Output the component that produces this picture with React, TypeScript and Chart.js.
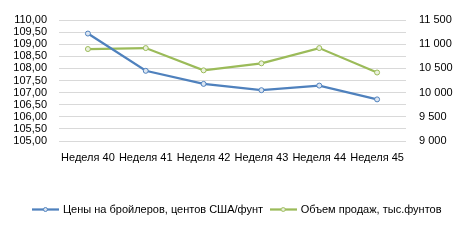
import React, { useEffect, useRef } from "react";
import { Chart, registerables } from "chart.js";

Chart.register(...registerables);

const categories = ["Неделя 40", "Неделя 41", "Неделя 42", "Неделя 43", "Неделя 44", "Неделя 45"];
const priceSeries = [109.44, 107.9, 107.36, 107.1, 107.29, 106.72];
const volumeSeries = [10900, 10920, 10460, 10605, 10920, 10415];
const priceLabel = "Цены на бройлеров, центов США/фунт";
const volumeLabel = "Объем продаж, тыс.фунтов";

const BLUE = "#4F81BD";
const GREEN = "#9BBB59";
const FONT = "'Liberation Sans', Arial, sans-serif";

function legendIcon(color: string, fill: string): HTMLCanvasElement {
  const c = document.createElement("canvas");
  c.width = 27;
  c.height = 7;
  const ctx = c.getContext("2d")!;
  ctx.strokeStyle = color;
  ctx.lineWidth = 2.25;
  ctx.beginPath();
  ctx.moveTo(0, 3.5);
  ctx.lineTo(27, 3.5);
  ctx.stroke();
  ctx.beginPath();
  ctx.arc(13.5, 3.5, 2, 0, Math.PI * 2);
  ctx.fillStyle = fill;
  ctx.fill();
  ctx.lineWidth = 1;
  ctx.stroke();
  return c;
}

export default function App() {
  const ref = useRef<HTMLCanvasElement | null>(null);

  useEffect(() => {
    document.body.style.margin = "0";
    const canvas = ref.current!;
    const blueIcon = legendIcon(BLUE, "#DCE6F2");
    const greenIcon = legendIcon(GREEN, "#EBF1DE");
    const chart = new Chart(canvas, {
      type: "line",
      data: {
        labels: categories,
        datasets: [
          {
            label: priceLabel,
            data: priceSeries,
            borderColor: BLUE,
            backgroundColor: BLUE,
            borderWidth: 2.25,
            pointStyle: "circle",
            pointRadius: 2.5,
            pointBorderWidth: 1,
            pointBackgroundColor: "#DCE6F2",
            pointBorderColor: BLUE,
            yAxisID: "y",
            tension: 0,
          },
          {
            label: volumeLabel,
            data: volumeSeries,
            borderColor: GREEN,
            backgroundColor: GREEN,
            borderWidth: 2.25,
            pointStyle: "circle",
            pointRadius: 2.5,
            pointBorderWidth: 1,
            pointBackgroundColor: "#EBF1DE",
            pointBorderColor: GREEN,
            yAxisID: "y1",
            tension: 0,
          },
        ],
      },
      options: {
        animation: false,
        responsive: false,
        maintainAspectRatio: false,
        layout: { padding: { top: 20, bottom: 16, left: 0, right: 0 } },
        plugins: {
          legend: {
            position: "bottom",
            labels: {
              usePointStyle: true,
              pointStyleWidth: 24,
              padding: 8,
              color: "#000",
              font: { family: FONT, size: 11 },
              generateLabels: (ch: any) =>
                ch.data.datasets.map((ds: any, i: number) => ({
                  text: ds.label,
                  pointStyle: i === 0 ? blueIcon : greenIcon,
                  fillStyle: ds.borderColor,
                  strokeStyle: ds.borderColor,
                  lineWidth: 0,
                  fontColor: "#000",
                  datasetIndex: i,
                  hidden: false,
                })),
            },
          },
          tooltip: { enabled: false },
        },
        scales: {
          x: {
            offset: true,
            grid: { display: false, drawTicks: false },
            border: { display: false },
            ticks: {
              color: "#000",
              font: { family: FONT, size: 11 },
              padding: 10,
              maxRotation: 0,
              autoSkip: false,
            },
            afterFit: (s: any) => {
              s.height = 55;
            },
          },
          y: {
            position: "left",
            min: 105,
            max: 110,
            grid: { color: "#D9D9D9", drawTicks: false, lineWidth: 1 },
            border: { display: false },
            ticks: {
              stepSize: 0.5,
              autoSkip: false,
              color: "#000",
              font: { family: FONT, size: 11 },
              padding: 12,
              callback: (v: any) => Number(v).toFixed(2).replace(".", ","),
            },
            afterFit: (s: any) => {
              s.width = 59;
            },
          },
          y1: {
            position: "right",
            min: 9000,
            max: 11500,
            grid: { display: false, drawTicks: false },
            border: { display: false },
            ticks: {
              stepSize: 500,
              autoSkip: false,
              color: "#000",
              font: { family: FONT, size: 11 },
              padding: 13,
              callback: (v: any) => {
                const n = Math.round(Number(v));
                return n.toString().replace(/\B(?=(\d{3})+(?!\d))/g, " ");
              },
            },
            afterFit: (s: any) => {
              s.width = 69;
            },
          },
        },
      },
    });
    return () => chart.destroy();
  }, []);

  return <canvas ref={ref} width={475} height={241} style={{ display: "block" }} />;
}
